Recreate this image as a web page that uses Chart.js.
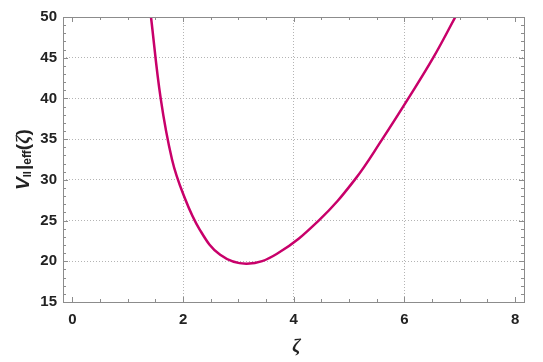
<!DOCTYPE html>
<html>
<head>
<meta charset="utf-8">
<script src="https://cdn.jsdelivr.net/npm/chart.js@4/dist/chart.umd.min.js"></script>
<style>
  html, body { margin: 0; padding: 0; background: #fff; }
  #wrap { width: 543px; height: 362px; }
</style>
</head>
<body>
<div id="wrap"><canvas id="c"></canvas></div>
<script>
// values
const zeta = [1.42, 1.595, 1.8, 2.0, 2.3, 2.67, 3.15, 3.69, 4.45, 5.1, 5.6, 6.07, 6.52, 6.92];
const vEff = [50, 40, 32.5, 28.3, 23.9, 20.8, 19.7, 20.9, 25, 30, 35, 40, 45, 50];
const xTicks = [0, 2, 4, 6, 8];
const yTicks = [15, 20, 25, 30, 35, 40, 45, 50];
const xRange = [-0.17, 8.16];
const yRange = [15, 50];

const curveColor = '#c8006a';
const frameColor = '#8c8c8c';
const gridColor = '#b4b4b4';
const tickFont = { family: 'Liberation Sans, Arial, sans-serif', size: 15, weight: 'bold' };

// frame, inward ticks and axis titles (Mathematica-style)
const framePlugin = {
  id: 'frame',
  afterDraw(chart) {
    const { ctx, chartArea: a, scales: { x, y } } = chart;
    ctx.save();
    ctx.strokeStyle = frameColor;
    ctx.lineWidth = 1;
    ctx.strokeRect(Math.round(a.left) + 0.5, Math.round(a.top) + 0.5,
      Math.round(a.right - a.left), Math.round(a.bottom - a.top));

    ctx.beginPath();
    for (let v = 0; v <= 8.001; v += 0.5) {
      const px = Math.round(x.getPixelForValue(v)) + 0.5;
      const len = Math.abs(v % 2) < 1e-6 ? 5 : 3;
      ctx.moveTo(px, a.bottom); ctx.lineTo(px, a.bottom - len);
      ctx.moveTo(px, a.top); ctx.lineTo(px, a.top + len);
    }
    for (let v = 15; v <= 50; v += 1) {
      const py = Math.round(y.getPixelForValue(v)) + 0.5;
      const len = v % 5 === 0 ? 5 : 3;
      ctx.moveTo(a.left, py); ctx.lineTo(a.left + len, py);
      ctx.moveTo(a.right, py); ctx.lineTo(a.right - len, py);
    }
    ctx.stroke();

    // x title
    ctx.fillStyle = '#222';
    ctx.textAlign = 'center';
    ctx.textBaseline = 'middle';
    ctx.font = 'italic bold 19px "Liberation Serif", "DejaVu Serif", serif';
    ctx.fillText('ζ', (a.left + a.right) / 2 + 3, 347);

    // y title: V∥|eff(ζ) with subscripts
    const big = 'bold 19px "Liberation Sans", Arial, sans-serif';
    const bigIt = 'italic bold 19px "Liberation Sans", Arial, sans-serif';
    const zIt = 'italic bold 19px "Liberation Serif", "DejaVu Serif", serif';
    const small = 'bold 12px "Liberation Sans", Arial, sans-serif';
    const parts = [
      { t: 'V', f: bigIt, dy: 0 },
      { t: 'II', f: 'bold 11px "Liberation Sans", Arial, sans-serif', dy: 4 },
      { t: '|', f: big, dy: 0 },
      { t: 'eff', f: small, dy: 4 },
      { t: '(', f: big, dy: 0 },
      { t: 'ζ', f: zIt, dy: 0 },
      { t: ')', f: big, dy: 0 }
    ];
    let total = 0;
    parts.forEach(p => { ctx.font = p.f; p.w = ctx.measureText(p.t).width + (p.t === 'II' ? 1 : 0); total += p.w; });
    ctx.translate(24, (a.top + a.bottom) / 2);
    ctx.rotate(-Math.PI / 2);
    ctx.textAlign = 'left';
    ctx.textBaseline = 'middle';
    let cx = -total / 2;
    parts.forEach(p => { ctx.font = p.f; ctx.fillText(p.t, cx, p.dy); cx += p.w; });
    ctx.restore();
  }
};

new Chart(document.getElementById('c').getContext('2d'), {
  type: 'line',
  data: {
    datasets: [{
      data: zeta.map((v, i) => ({ x: v, y: vEff[i] })),
      borderColor: curveColor,
      borderWidth: 2.5,
      pointRadius: 0,
      tension: 0.4,
      fill: false
    }]
  },
  options: {
    responsive: true,
    maintainAspectRatio: false,
    animation: false,
    clip: true,
    layout: { padding: { left: 0, right: 19, top: 17, bottom: 0 } },
    plugins: { legend: { display: false }, tooltip: { enabled: false } },
    scales: {
      x: {
        type: 'linear',
        min: xRange[0], max: xRange[1],
        afterBuildTicks: s => { s.ticks = xTicks.map(v => ({ value: v })); },
        afterFit: s => { s.height = 60; },
        border: { display: false, dash: [1, 2] },
        grid: {
          drawTicks: false,
          color: c => (c.tick && c.tick.value > 0 && c.tick.value < 8) ? gridColor : 'rgba(0,0,0,0)',
          lineWidth: 1
        },
        ticks: { color: '#222', font: tickFont, padding: 9, maxRotation: 0 }
      },
      y: {
        type: 'linear',
        min: yRange[0], max: yRange[1],
        afterBuildTicks: s => { s.ticks = yTicks.map(v => ({ value: v })); },
        afterFit: s => { s.width = 63; },
        border: { display: false, dash: [1, 2] },
        grid: {
          drawTicks: false,
          color: c => (c.tick && c.tick.value > 15 && c.tick.value < 50) ? gridColor : 'rgba(0,0,0,0)',
          lineWidth: 1
        },
        ticks: { color: '#222', font: tickFont, padding: 6 }
      }
    }
  },
  plugins: [framePlugin]
});
</script>
</body>
</html>
